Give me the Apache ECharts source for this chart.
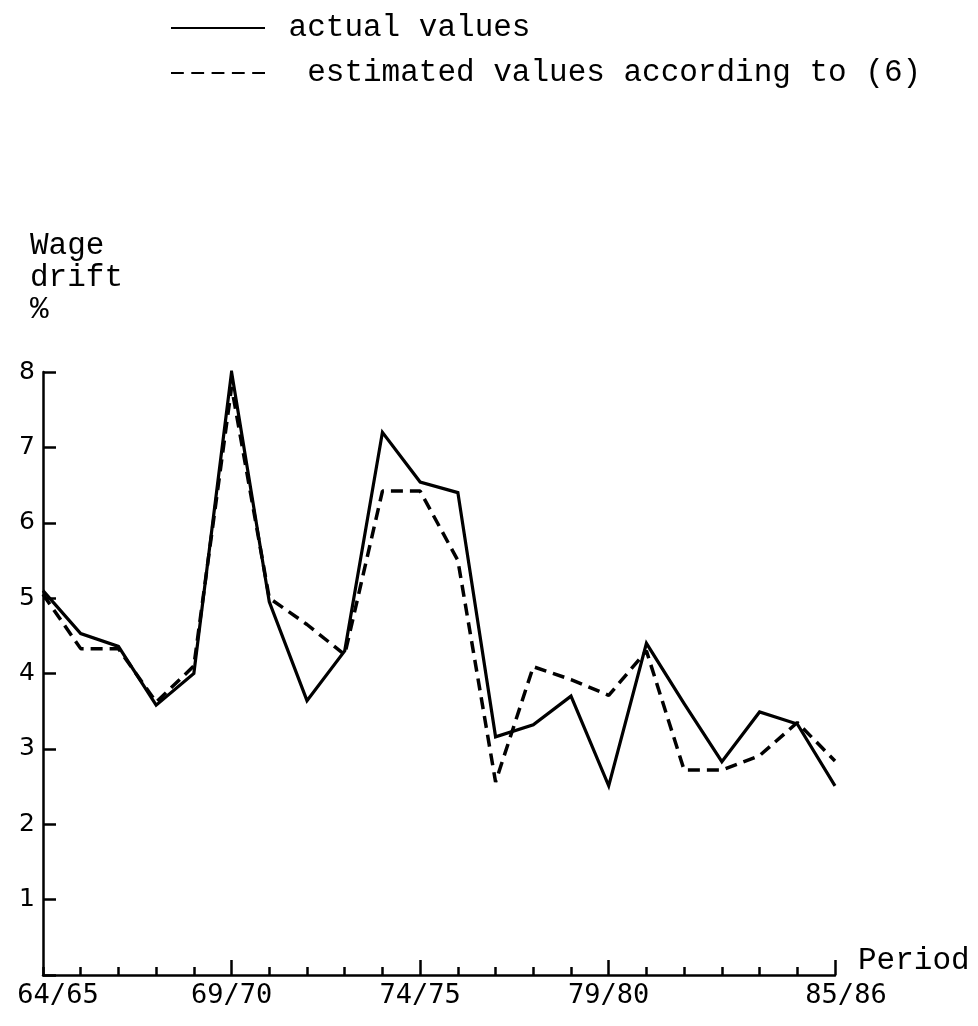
<!DOCTYPE html>
<html>
<head>
<meta charset="utf-8">
<title>Wage drift</title>
<script src="https://cdn.jsdelivr.net/npm/echarts@6/dist/echarts.min.js"></script>
<style>
  html, body { margin: 0; padding: 0; background: #fff; }
  #chart { width: 978px; height: 1026px; }
</style>
</head>
<body>
<div id="chart"></div>
<script>
// x axis categories (one per period)
var periods = ['64/65', '65/66', '66/67', '67/68', '68/69', '69/70', '70/71', '71/72',
  '72/73', '73/74', '74/75', '75/76', '76/77', '77/78', '78/79', '79/80', '80/81',
  '81/82', '82/83', '83/84', '84/85', '85/86']
// periods that get a label / a long tick
var labelledPeriods = ['64/65', '69/70', '74/75', '79/80', '85/86']
var longTickPeriods = ['69/70', '74/75', '79/80', '85/86']

// wage drift, %
var actualValues = [5.1, 4.53, 4.36, 3.58, 4.0, 8.0, 4.95, 3.64, 4.3, 7.2, 6.54,
  6.4, 3.16, 3.32, 3.7, 2.51, 4.4, 3.6, 2.83, 3.49, 3.33, 2.51]
var estimatedValues = [5.05, 4.33, 4.33, 3.62, 4.1, 7.8, 5.0, 4.65, 4.25, 6.42, 6.42,
  5.5, 2.56, 4.09, 3.92, 3.71, 4.3, 2.72, 2.72, 2.91, 3.35, 2.84]

var actualName = 'actual values'
var estimatedName = 'estimated values according to (6)'

var mono = 'Liberation Mono'
var tickFont = 'DejaVu Sans Mono'

// legend samples: a plain rule and five short dashes
var solidIcon = 'path://M0,0H96V2H0Z'
var dashedIcon = 'path://M0,0H12V2H0Z M19,0H31V2H19Z M38,0H50V2H38Z M57,0H69V2H57Z M76,0H88V2H76Z'

var myChart = echarts.init(document.getElementById('chart'))

var option = {
  backgroundColor: '#fff',
  animation: false,
  grid: {
    left: 43,
    right: 143,
    top: 372,
    bottom: 51
  },
  legend: {
    orient: 'vertical',
    left: 166,
    top: 6,
    itemWidth: 94,
    itemHeight: 3,
    itemGap: 11,
    data: [
      { name: actualName, icon: solidIcon },
      { name: estimatedName, icon: dashedIcon }
    ],
    formatter: function (name) {
      return name === estimatedName ? '  ' + name : ' ' + name
    },
    textStyle: {
      fontFamily: mono,
      fontSize: 31,
      lineHeight: 34,
      color: '#000'
    }
  },
  xAxis: [
    {
      type: 'category',
      data: periods,
      boundaryGap: false,
      position: 'bottom',
      name: 'Period',
      nameLocation: 'end',
      nameGap: 23,
      nameTextStyle: {
        fontFamily: mono,
        fontSize: 31,
        lineHeight: 28,
        color: '#000',
        align: 'left',
        verticalAlign: 'bottom'
      },
      axisLine: { show: true, lineStyle: { color: '#000', width: 2.5 } },
      axisTick: {
        show: true,
        inside: true,
        length: 8,
        interval: 0,
        lineStyle: { color: '#000', width: 2.5 }
      },
      axisLabel: {
        interval: function (index, value) {
          return labelledPeriods.indexOf(value) >= 0
        },
        formatter: function (value) {
          if (value === periods[0]) return '{first|' + value + '}'
          if (value === periods[periods.length - 1]) return '{last|' + value + '}'
          return value
        },
        rich: {
          first: { fontFamily: tickFont, fontSize: 27, color: '#000', padding: [0, 0, 0, 30] },
          last: { fontFamily: tickFont, fontSize: 27, color: '#000', padding: [0, 0, 0, 22] }
        },
        margin: 7,
        fontFamily: tickFont,
        fontSize: 27,
        color: '#000'
      },
      splitLine: { show: false }
    },
    {
      // second axis only for the longer ticks
      type: 'category',
      data: periods,
      boundaryGap: false,
      position: 'bottom',
      axisLine: { show: false },
      axisLabel: { show: false },
      axisTick: {
        show: true,
        inside: true,
        length: 15,
        interval: function (index, value) {
          return longTickPeriods.indexOf(value) >= 0
        },
        lineStyle: { color: '#000', width: 2.5 }
      },
      splitLine: { show: false }
    }
  ],
  yAxis: {
    type: 'value',
    min: 0,
    max: 8,
    interval: 1,
    name: 'Wage\ndrift\n%',
    nameLocation: 'end',
    nameGap: 46,
    nameTextStyle: {
      fontFamily: mono,
      fontSize: 31,
      lineHeight: 32,
      color: '#000',
      align: 'left',
      verticalAlign: 'bottom',
      padding: [0, 0, 0, -13]
    },
    axisLine: { show: true, lineStyle: { color: '#000', width: 2.5 } },
    axisTick: {
      show: true,
      inside: true,
      length: 13,
      lineStyle: { color: '#000', width: 2.5 }
    },
    axisLabel: {
      margin: 8,
      fontFamily: 'DejaVu Sans',
      fontSize: 25,
      color: '#000',
      formatter: function (v) {
        return v === 0 ? '' : String(v)
      }
    },
    splitLine: { show: false }
  },
  series: [
    {
      name: actualName,
      type: 'line',
      data: actualValues,
      symbol: 'none',
      z: 3,
      lineStyle: { color: '#000', width: 3.2, join: 'miter' },
      itemStyle: { color: '#000' }
    },
    {
      name: estimatedName,
      type: 'line',
      data: estimatedValues,
      symbol: 'none',
      z: 2,
      lineStyle: { color: '#000', width: 3.5, type: [12, 7] },
      itemStyle: { color: '#000' }
    }
  ]
}

myChart.setOption(option)
</script>
</body>
</html>
